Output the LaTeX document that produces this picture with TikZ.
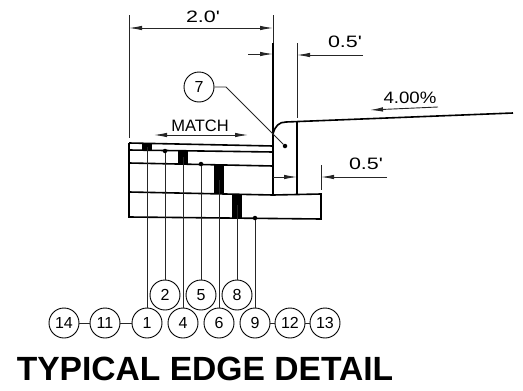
\documentclass[tikz,border=0pt]{standalone}
\usepackage{fontspec}
\setmainfont{Liberation Sans}
\usetikzlibrary{arrows.meta}
\newcommand{\widenum}[2]{\scalebox{#1}[1]{#2}}
\tikzset{
  wall/.style={line width=1.6pt},
  leader/.style={line width=0.9pt, black!85},
  dim/.style={line width=0.9pt, black!85, -{Latex[length=13pt,width=4.5pt]}},
  dimboth/.style={line width=0.9pt, black!85, {Latex[length=13pt,width=4.5pt]}-{Latex[length=13pt,width=4.5pt]}},
  callout/.style={draw, circle, line width=0.9pt, minimum size=30pt, inner sep=0pt, font=\fontsize{16}{16}\selectfont},
  dimtext/.style={font=\fontsize{16.5}{16.5}\selectfont},
  dotmark/.style={fill, circle, inner sep=0pt, minimum size=4.5pt}
}
\begin{document}
\begin{tikzpicture}[x=1pt, y=-1pt]
        \useasboundingbox (0,0) rectangle (523,391);

        % Camadas do pavimento
        \draw[wall] (129,143) -- (273,146);
        \draw[wall] (129,150) -- (273,152);
        \draw[wall] (129,163) -- (273,166);
        \draw[wall] (129,192) -- (273,195) -- (321,194) -- (321,219) -- (129,217) -- cycle;
        \draw[wall] (129,143) -- (129,217);

        % Blocos pretos
        \fill (142,144) rectangle (152,151);
        \fill (178,151) rectangle (188,164);
        \fill (214,164) rectangle (224,194);
        \fill (232,194) rectangle (242,218);

        % Meio-fio e pista
        \draw[wall] (273,43) -- (273,195);
        \draw[wall] (297,122) -- (297,194);
        \draw[wall] (273,134) .. controls (275,126) and (279,122) .. (286,122) -- (513,113);

        % Cotas
        \coordinate (extA) at (129,15);
        \coordinate (extB) at (129,138);
        \coordinate (extC) at (273,15);
        \coordinate (extD) at (273,43);
        \coordinate (extE) at (297,43);
        \coordinate (extF) at (297,118);
        \coordinate (extG) at (321,165);
        \coordinate (extH) at (321,190);
        \draw[leader] (extA) -- (extB);
        \draw[leader] (extC) -- (extD);
        \draw[leader] (extE) -- (extF);
        \draw[leader] (extG) -- (extH);
        \draw[dimboth] (129,28) -- (273,28);
        \draw[dim] (248,54) -- (273,54);
        \draw[dim] (363,55) -- (297,55);
        \draw[dim] (273,177) -- (297,177);
        \draw[dim] (387,177) -- (321,177);
        \draw[dimboth] (154,135) -- (248,135);
        \draw[dim] (438,107) -- (370,110);
        \node[dimtext] (width) at (203,17) {\widenum{1.3}{2.0\textquotesingle}};
        \node[dimtext] (curb) at (345,42) {\widenum{1.3}{0.5\textquotesingle}};
        \node[dimtext] (base) at (366,164) {\widenum{1.3}{0.5\textquotesingle}};
        \node[dimtext] (match) at (200,126) {MATCH};
        \node[dimtext] (slope) at (410,98) {\widenum{1.13}{4.00\%}};

        % Pontos de chamada
        \node[dotmark] (p7) at (285,146) {};
        \node[dotmark] (p2) at (165,151) {};
        \node[dotmark] (p5) at (201,164) {};
        \node[dotmark] (p9) at (255,218) {};
        \coordinate (p1) at (147,147);
        \coordinate (p4) at (183,157);
        \coordinate (p6) at (219,180);
        \coordinate (p8) at (237,205);

        % Chamadas
        \node[callout] (c7) at (199,87) {7};
        \node[callout] (c2) at (165,295) {2};
        \node[callout] (c5) at (201,295) {5};
        \node[callout] (c8) at (237,295) {8};
        \node[callout] (c14) at (64,323) {14};
        \node[callout] (c11) at (105,323) {11};
        \node[callout] (c1) at (147,323) {1};
        \node[callout] (c4) at (183,323) {4};
        \node[callout] (c6) at (219,323) {6};
        \node[callout] (c9) at (255,323) {9};
        \node[callout] (c12) at (290,323) {12};
        \node[callout] (c13) at (325,323) {13};

        % Ligacoes
        \draw[leader] (c7) -- (226,87) -- (p7);
        \draw[leader] (p1) -- (c1);
        \draw[leader] (p2) -- (c2);
        \draw[leader] (p4) -- (c4);
        \draw[leader] (p5) -- (c5);
        \draw[leader] (p6) -- (c6);
        \draw[leader] (p8) -- (c8);
        \draw[leader] (p9) -- (c9);
        \draw[leader] (c14) -- (c11);
        \draw[leader] (c11) -- (c1);
        \draw[leader] (c9) -- (c12);
        \draw[leader] (c12) -- (c13);

        % Titulo
        \node[font=\bfseries\fontsize{33.6}{33.6}\selectfont] (title) at (205,369) {TYPICAL EDGE DETAIL};
      \end{tikzpicture}
\end{document}
